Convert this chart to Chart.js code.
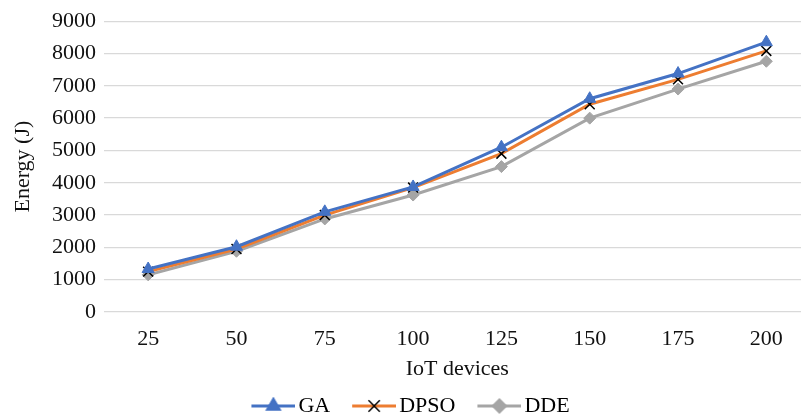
<!DOCTYPE html>
<html>
<head>
<meta charset="utf-8">
<script src="https://cdn.jsdelivr.net/npm/chart.js@4.4.1/dist/chart.umd.min.js"></script>
<style>
    html, body { margin: 0; padding: 0; background: #fff; overflow: hidden; }
</style>
</head>
<body>
<canvas id="chart" width="819" height="427"></canvas>
<script>
// data
const devices = ["25", "50", "75", "100", "125", "150", "175", "200"];
const gaEnergy = [1330, 2020, 3100, 3870, 5100, 6600, 7380, 8350];
const dpsoEnergy = [1250, 1950, 3000, 3850, 4900, 6430, 7200, 8080];
const ddeEnergy = [1150, 1880, 2880, 3620, 4500, 6000, 6900, 7760];
const seriesNames = ["GA", "DPSO", "DDE"];

const serif = "'Liberation Serif', 'Times New Roman', serif";
const fontSize = 22;
Chart.defaults.font.family = serif;
Chart.defaults.font.size = fontSize;
Chart.defaults.color = "#111";

// legend symbol: blank gap on the left, then line + marker
const ICON_GAP = 26;
const ICON_LINE = 44;
function legendIcon(lineColor, style, fill, stroke, radius) {
    const c = document.createElement("canvas");
    c.width = ICON_GAP + ICON_LINE;
    c.height = 18;
    const ctx = c.getContext("2d");
    ctx.strokeStyle = lineColor;
    ctx.lineWidth = 3;
    ctx.beginPath();
    ctx.moveTo(ICON_GAP, 9);
    ctx.lineTo(ICON_GAP + ICON_LINE, 9);
    ctx.stroke();
    ctx.fillStyle = fill;
    ctx.strokeStyle = stroke;
    ctx.lineWidth = 1.5;
    Chart.helpers.drawPoint(ctx, { pointStyle: style, radius: radius, rotation: 0, borderWidth: 1.5 }, ICON_GAP + ICON_LINE / 2, 9);
    return c;
}

function makeSeries(label, values, color, style, markerColor, radius) {
    return {
        label: label,
        data: values,
        borderColor: color,
        backgroundColor: markerColor,
        borderWidth: 3,
        pointStyle: style,
        pointRadius: radius,
        pointBackgroundColor: markerColor,
        pointBorderColor: style === "crossRot" ? "#000" : markerColor,
        pointBorderWidth: style === "crossRot" ? 1.5 : 1,
        tension: 0,
        fill: false,
        icon: legendIcon(color, style, markerColor, style === "crossRot" ? "#000" : markerColor, radius + 1)
    };
}

const datasets = [
    makeSeries(seriesNames[0], gaEnergy, "#4472C4", "triangle", "#4472C4", 7),
    makeSeries(seriesNames[1], dpsoEnergy, "#ED7D31", "crossRot", "#000", 7),
    makeSeries(seriesNames[2], ddeEnergy, "#A5A5A5", "rectRot", "#A5A5A5", 6)
];

// the canvas is wider than the window, so pull the legend back a little
const legendShift = {
    id: "legendShift",
    afterLayout: function(chart) {
        if (chart.legend) {
            chart.legend.left -= 7;
            chart.legend.right -= 7;
        }
    }
};

new Chart(document.getElementById("chart"), {
    type: "line",
    data: { labels: devices, datasets: datasets },
    plugins: [legendShift],
    options: {
        responsive: false,
        animation: false,
        layout: { padding: { top: 16, right: 2, left: 0, bottom: 0 } },
        plugins: {
            tooltip: { enabled: false },
            legend: {
                position: "bottom",
                labels: {
                    usePointStyle: true,
                    pointStyleWidth: ICON_GAP + ICON_LINE - 16,
                    padding: 4,
                    color: "#111",
                    font: { size: fontSize, family: serif },
                    generateLabels: function(chart) {
                        return chart.data.datasets.map(function(ds, i) {
                            return {
                                text: ds.label,
                                pointStyle: ds.icon,
                                fillStyle: ds.borderColor,
                                strokeStyle: ds.borderColor,
                                lineWidth: 0,
                                hidden: false,
                                datasetIndex: i
                            };
                        });
                    }
                }
            }
        },
        scales: {
            x: {
                offset: true,
                grid: { display: false },
                border: { display: false },
                ticks: { padding: 8, color: "#111", font: { family: serif, size: fontSize, lineHeight: 1 } },
                title: {
                    display: true,
                    text: "IoT devices",
                    color: "#111",
                    font: { family: serif, size: fontSize, lineHeight: 1 },
                    padding: { top: 0, bottom: 11 }
                }
            },
            y: {
                min: 0,
                max: 9000,
                ticks: {
                    stepSize: 1000,
                    padding: 8,
                    color: "#111",
                    font: { family: serif, size: fontSize },
                    callback: function(v) { return String(v); }
                },
                grid: { color: "#d9d9d9", lineWidth: 1.3, drawTicks: false },
                border: { display: false },
                title: { display: true, text: "Energy (J)", color: "#111", font: { family: serif, size: fontSize }, padding: { top: 10, bottom: 0 } },
                afterFit: function(scale) { scale.width = 104; }
            }
        }
    }
});
</script>
</body>
</html>
